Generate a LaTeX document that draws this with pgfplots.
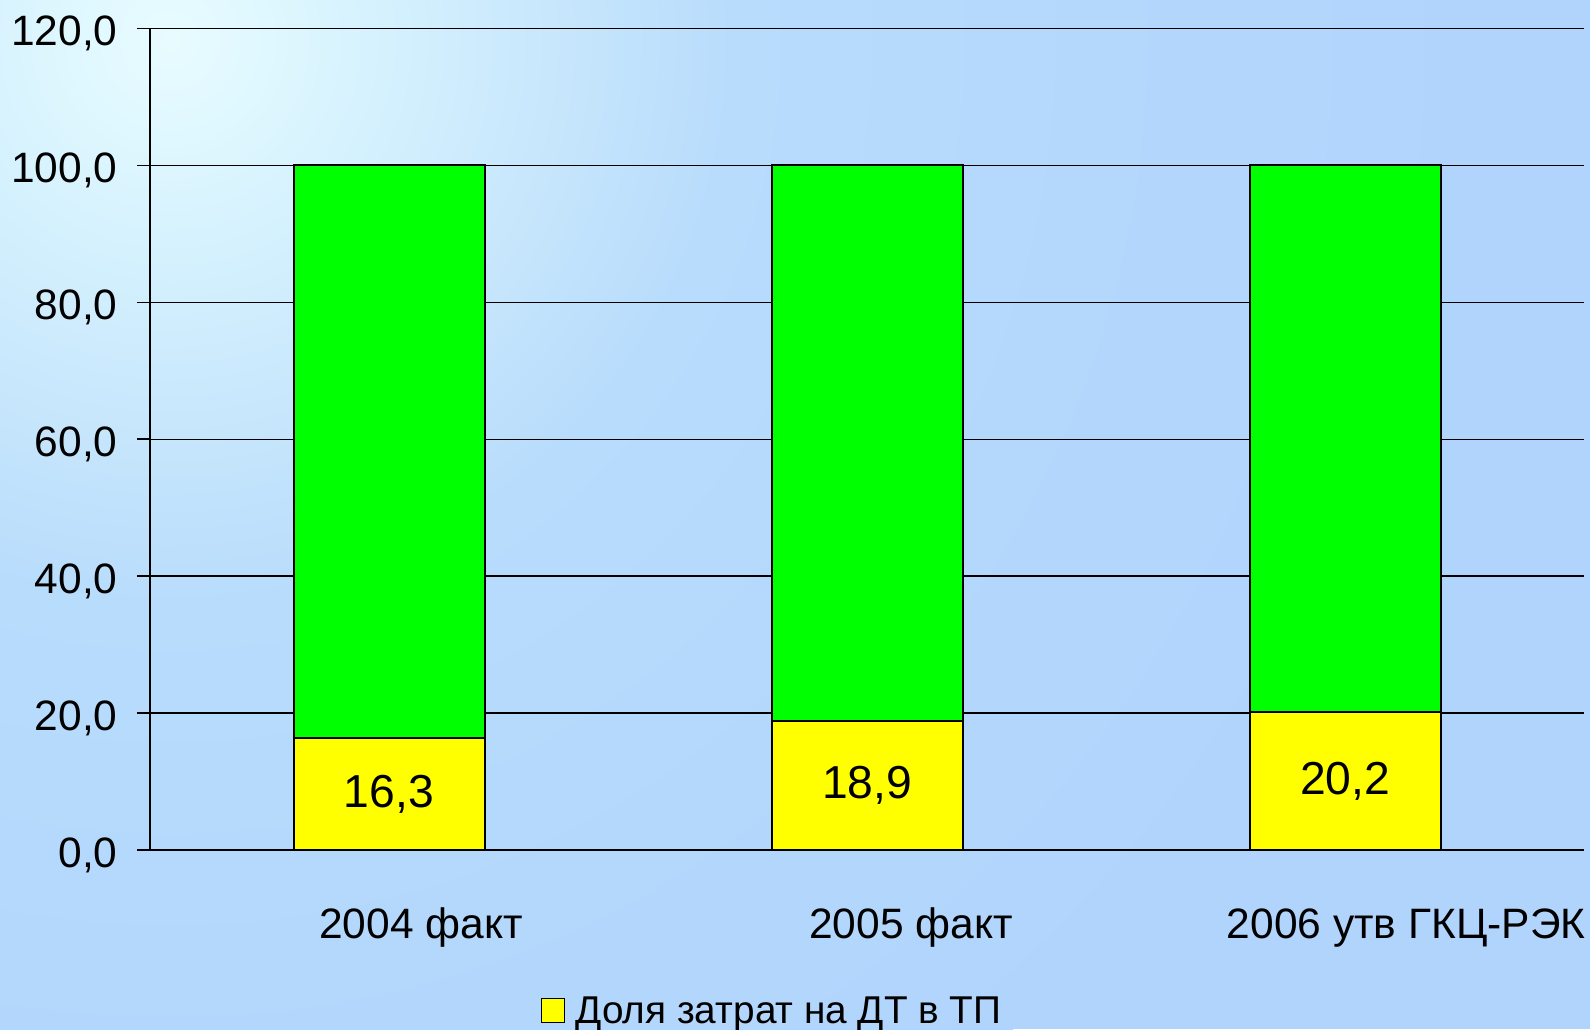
\documentclass[border=0pt]{standalone}
\usepackage{fontspec}
\setmainfont{Liberation Sans}
\usepackage{pgfplots}
\pgfplotsset{compat=1.18}

% background glow colours, from the bright corner outwards
\definecolor{bgc0}{RGB}{232,252,255}
\definecolor{bgc1}{RGB}{214,242,254}
\definecolor{bgc2}{RGB}{196,228,252}
\definecolor{bgc3}{RGB}{184,220,252}
\definecolor{bgc4}{RGB}{180,216,252}
\definecolor{bgc5}{RGB}{176,212,252}
\definecolor{baryellow}{RGB}{255,255,0}
\definecolor{bargreen}{RGB}{0,255,0}

% radial glow; 25bp is stretched to the radius of the shaded circle
\pgfdeclareradialshading{bgglow}{\pgfpointorigin}{%
  color(0bp)=(bgc0); color(3.85bp)=(bgc1); color(8.25bp)=(bgc2);
  color(10.85bp)=(bgc3); color(17.9bp)=(bgc4); color(25bp)=(bgc5);
  color(50bp)=(bgc5)}

\begin{document}
\begin{tikzpicture}
\useasboundingbox (0,0) rectangle (636pt,411.6pt);
\fill[bgc5] (0,0) rectangle (636pt,411.6pt);
\begin{scope}
  \clip (0,0) rectangle (636pt,411.6pt);
  \shade[shading=bgglow] (68pt,395.6pt) circle (520pt);
\end{scope}

\begin{axis}[
  at={(60pt,71.6pt)}, anchor=south west,
  scale only axis, width=573.6pt, height=328.6pt,
  xmin=-0.5, xmax=2.5, ymin=0, ymax=120,
  ybar stacked, bar width=76.4pt,
  axis x line*=bottom, axis y line*=left,
  axis line style={black, line width=0.6pt},
  xtick={0.067,1.092,2.128},
  xticklabels={2004 факт, 2005 факт, 2006 утв ГКЦ-РЭК},
  xtick style={draw=none},
  ytick={0,20,...,120},
  ytick style={black, line width=0.6pt},
  tick align=outside, major tick length=5.2pt,
  ymajorgrids, grid style={black, line width=0.55pt},
  tick label style={font=\fontsize{17}{20}\selectfont, black},
  xticklabel style={anchor=base, yshift=-30.3pt},
  yticklabel style={anchor=base east, inner sep=0pt, yshift=-6.8pt, xshift=-7.6pt},
  /pgf/number format/fixed,
  /pgf/number format/fixed zerofill,
  /pgf/number format/precision=1,
  /pgf/number format/use comma,
  /pgf/number format/assume math mode=true,
  legend style={draw=none, fill=none, at={(0.4345,0)}, anchor=north,
    yshift=-54.4pt, xshift=0.25pt, font=\fontsize{15.5}{18}\selectfont},
  legend image code/.code={%
    \draw[#1, draw=black, line width=0.5pt] (0pt,-4.4pt) rectangle (9.2pt,5.2pt);
    \path (11.2pt,0pt);},
]
\addplot[fill=baryellow, draw=black, line width=0.8pt,
  nodes near coords,
  every node near coord/.append style={anchor=center,
    font=\fontsize{18.5}{22}\selectfont, black}]
  coordinates {(0,16.3) (1,18.9) (2,20.2)};
\addlegendentry{Доля затрат на ДТ в ТП}
\addplot[fill=bargreen, draw=black, line width=0.8pt]
  coordinates {(0,83.7) (1,81.1) (2,79.8)};
\end{axis}
\end{tikzpicture}
\end{document}
